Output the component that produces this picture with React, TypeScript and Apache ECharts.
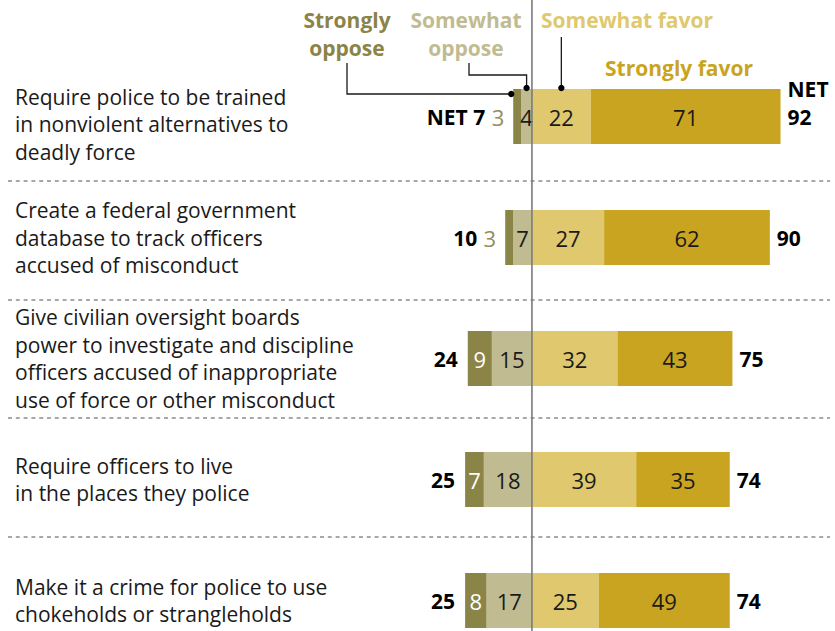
import React, { useEffect, useRef } from "react";
import * as echarts from "echarts";

const categories = [
  "Require police to be trained\nin nonviolent alternatives to\ndeadly force",
  "Create a federal government\ndatabase to track officers\naccused of misconduct",
  "Give civilian oversight boards\npower to investigate and discipline\nofficers accused of inappropriate\nuse of force or other misconduct",
  "Require officers to live\nin the places they police",
  "Make it a crime for police to use\nchokeholds or strangleholds",
];
const stronglyOppose = [3, 3, 9, 7, 8];
const somewhatOppose = [4, 7, 15, 18, 17];
const somewhatFavor = [22, 27, 32, 39, 25];
const stronglyFavor = [71, 62, 43, 35, 49];
const netOppose = [7, 10, 24, 25, 25];
const netFavor = [92, 90, 75, 74, 74];

const C_SO = "#8b8447";
const C_MO = "#c1bb91";
const C_MF = "#dfc86e";
const C_SF = "#c9a420";
const FONT = "'Open Sans'";

export default function App() {
  const ref = useRef<HTMLDivElement>(null);
  useEffect(() => {
    if (!ref.current) return;
    const chart = echarts.init(ref.current, undefined, { renderer: "svg" });
    const BW = 55;
    const valLabel = (color: string) => ({
      show: true,
      position: "inside" as const,
      color,
      fontFamily: FONT,
      fontSize: 22,
      formatter: (p: any) => String(Math.abs(p.value)),
    });
    const catStyle = { color: "#1a1a1a", fontFamily: FONT, fontSize: 21, lineHeight: 27.5 };
    const option: any = {
      animation: false,
      grid: { left: 8, top: 56, width: 822, height: 605, containLabel: false },
      xAxis: {
        type: "value",
        min: -196,
        max: 111.5,
        show: false,
        splitLine: { show: false },
      },
      yAxis: {
        type: "category",
        inverse: true,
        data: categories,
        axisLine: { show: false },
        axisTick: { show: false },
        splitLine: { show: false },
        axisLabel: {
          inside: true,
          margin: 7,
          align: "left",
          ...catStyle,
          formatter: (v: string, i: number) =>
            i === 0
              ? "{s|}\n" + v.split("\n").map((l) => "{t|" + l + "}").join("\n")
              : v,
          rich: {
            s: { height: 15, lineHeight: 15, fontSize: 1 },
            t: { ...catStyle },
          },
        },
      },
      series: [
        {
          name: "Somewhat oppose",
          type: "bar",
          stack: "t",
          barWidth: BW,
          barGap: "-100%",
          itemStyle: { color: C_MO },
          label: valLabel("#1a1a1a"),
          data: somewhatOppose.map((v) => -v),
        },
        {
          name: "Strongly oppose",
          type: "bar",
          stack: "t",
          barWidth: BW,
          itemStyle: { color: C_SO },
          label: { formatter: (p: any) => String(Math.abs(p.value)) },
          data: stronglyOppose.map((v) => {
            const small = v < 5;
            return {
              value: -v,
              label: small
                ? { show: true, position: "left", distance: 9, color: "#958d5c", fontFamily: FONT, fontSize: 22 }
                : { show: true, position: "inside", color: "#ffffff", fontFamily: FONT, fontSize: 22 },
            };
          }),
        },
        {
          name: "Somewhat favor",
          type: "bar",
          stack: "t",
          barWidth: BW,
          itemStyle: { color: C_MF },
          label: valLabel("#1a1a1a"),
          data: somewhatFavor,
        },
        {
          name: "Strongly favor",
          type: "bar",
          stack: "t",
          barWidth: BW,
          itemStyle: { color: C_SF },
          label: valLabel("#1a1a1a"),
          data: stronglyFavor,
        },
        {
          name: "NET oppose",
          type: "bar",
          barWidth: BW,
          barGap: "-100%",
          itemStyle: { color: "rgba(0,0,0,0)" },
          silent: true,
          data: netOppose.map((n, i) => ({
            value: -(stronglyOppose[i] + somewhatOppose[i]),
            label: {
              show: true,
              position: "left",
              distance: stronglyOppose[i] < 5 ? 28 : 10,
              color: "#000",
              fontFamily: FONT,
              fontWeight: "bold",
              fontSize: 21,
              formatter: i === 0 ? "NET " + n : String(n),
            },
          })),
        },
        {
          name: "NET favor",
          type: "bar",
          barWidth: BW,
          barGap: "-100%",
          itemStyle: { color: "rgba(0,0,0,0)" },
          silent: true,
          data: netFavor.map((n, i) => ({
            value: somewhatFavor[i] + stronglyFavor[i],
            label: {
              show: true,
              position: "right",
              distance: 7,
              color: "#000",
              fontFamily: FONT,
              fontWeight: "bold",
              fontSize: 21,
              lineHeight: 28,
              offset: i === 0 ? [0, -14] : [0, 0],
              formatter: i === 0 ? "NET\n" + n : String(n),
            },
          })),
        },
      ],
    };
    chart.setOption(option);

    const px = (v: number) => chart.convertToPixel({ xAxisIndex: 0 }, v) as number;
    const x0 = px(0);
    const sepYs = [181, 300, 418, 537];
    const txt = (text: string, x: number, y: number, color: string) => ({
      type: "text",
      x,
      y,
      z: 20,
      style: {
        text,
        fill: color,
        font: `bold 21px ${FONT}`,
        textAlign: "center",
        textVerticalAlign: "middle",
        lineHeight: 28,
      },
    });
    const lineStyle = { stroke: "#1a1a1a", lineWidth: 1.3, fill: "none" };
    const dot = (x: number, y: number) => ({
      type: "circle",
      z: 30,
      shape: { cx: x, cy: y, r: 3.2 },
      style: { fill: "#000" },
    });
    const dSO = px(-(stronglyOppose[0] + somewhatOppose[0])) - 2;
    const dMO = px(-somewhatOppose[0] / 2);
    const dMF = px(somewhatFavor[0] / 2);
    chart.setOption({
      graphic: [
        ...sepYs.map((y) => ({
          type: "line",
          z: 5,
          shape: { x1: 8, y1: y, x2: 830, y2: y },
          style: { stroke: "#8c8c8c", lineWidth: 1.6, lineDash: [4, 3.8] },
        })),
        {
          type: "line",
          z: 25,
          shape: { x1: x0, y1: 0, x2: x0, y2: 631 },
          style: { stroke: "#7a7a7a", lineWidth: 1.6 },
        },
        txt("Strongly\noppose", 347, 34, C_SO),
        txt("Somewhat\noppose", 466, 34, C_MO),
        txt("Somewhat favor", 627, 20, C_MF),
        txt("Strongly favor", 679, 68, C_SF),
        { type: "polyline", z: 30, shape: { points: [[347, 63], [347, 94], [dSO, 94]] }, style: lineStyle },
        { type: "polyline", z: 30, shape: { points: [[469, 63], [469, 75], [dMO, 75], [dMO, 88]] }, style: lineStyle },
        { type: "polyline", z: 30, shape: { points: [[dMF, 37], [dMF, 88]] }, style: lineStyle },
        dot(dSO, 94),
        dot(dMO, 88),
        dot(dMF, 88),
      ],
    });
    return () => chart.dispose();
  }, []);
  return (
    <div
      style={{ position: "absolute", left: 0, top: 0, width: 835, height: 631, overflow: "hidden", background: "#fff" }}
    >
      <div ref={ref} style={{ width: 835, height: 700 }} />
    </div>
  );
}
